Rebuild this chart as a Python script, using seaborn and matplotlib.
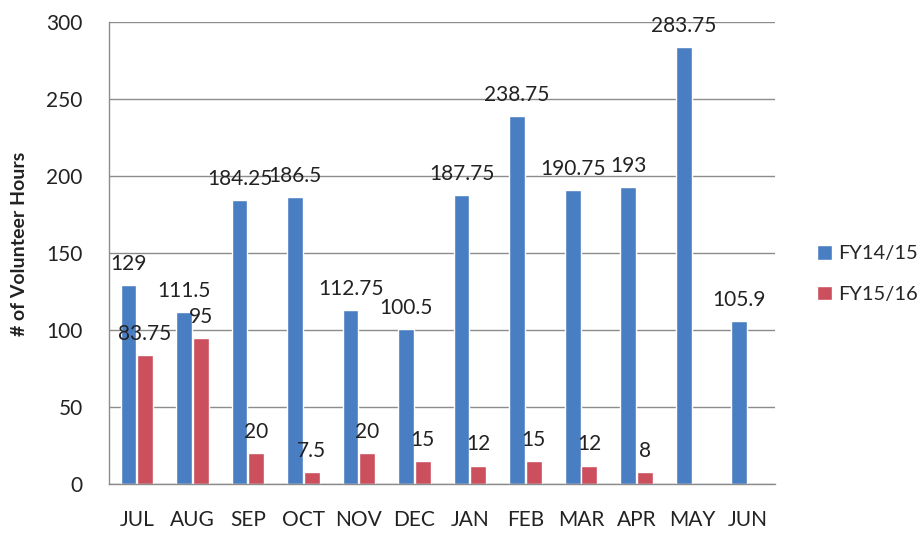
import numpy as np
import pandas as pd
import matplotlib
matplotlib.use("Agg")
import matplotlib.pyplot as plt
import seaborn as sns

months = ["JUL", "AUG", "SEP", "OCT", "NOV", "DEC", "JAN", "FEB", "MAR", "APR", "MAY", "JUN"]
fy1415 = [129, 111.5, 184.25, 186.5, 112.75, 100.5, 187.75, 238.75, 190.75, 193, 283.75, 105.9]
fy1516 = [83.75, 95, 20, 7.5, 20, 15, 12, 15, 12, 8, np.nan, np.nan]
series_names = ["FY14/15", "FY15/16"]
colors = ["#4A7EC2", "#CC4F5E"]
yticks = [0, 50, 100, 150, 200, 250, 300]

df = pd.DataFrame({
    "Month": months * 2,
    "Hours": fy1415 + fy1516,
    "Series": [series_names[0]] * len(months) + [series_names[1]] * len(months),
})

sns.set_style("white")
plt.rcParams["font.family"] = ["Lato", "DejaVu Sans"]

fig = plt.figure(figsize=(9.24, 5.34), dpi=100)
ax = fig.add_axes([0.118, 0.0936, 0.721, 0.865])

sns.barplot(data=df, x="Month", y="Hours", hue="Series", order=months,
            hue_order=series_names, palette=colors, width=0.6, gap=0.05,
            saturation=1, ax=ax, legend=True)

ax.set_ylim(0, 300)
ax.set_xlim(-0.5, len(months) - 0.5)
ax.set_yticks(yticks)
ax.set_yticklabels([str(t) for t in yticks], fontsize=15, color="#222222")
ax.tick_params(axis="x", labelsize=15, colors="#222222", length=0, pad=19)
ax.tick_params(axis="y", length=0, pad=19)
ax.set_xlabel("")
ax.set_ylabel("# of Volunteer Hours", fontsize=14, fontweight="bold", color="#222222")
ax.yaxis.set_label_coords(-0.122, 0.52)

ax.yaxis.grid(True, color="#8c8c8c", linewidth=1.0)
ax.set_axisbelow(True)
for s in ["top", "right"]:
    ax.spines[s].set_visible(False)
for s in ["left", "bottom"]:
    ax.spines[s].set_color("#8c8c8c")
    ax.spines[s].set_linewidth(1.0)

for container, vals in zip(ax.containers, [fy1415, fy1516]):
    for bar, v in zip(container, vals):
        if v is None or (isinstance(v, float) and np.isnan(v)):
            continue
        label = f"{v:g}"
        ax.annotate(label, (bar.get_x() + bar.get_width() / 2, bar.get_height()),
                    xytext=(0, 8), textcoords="offset points", ha="center", va="bottom",
                    fontsize=15, color="#222222")

leg = ax.get_legend()
handles = leg.legend_handles
leg.remove()
fig.legend(handles, series_names, loc="center left", bbox_to_anchor=(0.884, 0.487),
           frameon=False, fontsize=14.5, handlelength=0.75, handleheight=0.75,
           handletextpad=0.3, labelspacing=1.15, borderpad=0, borderaxespad=0)

fig.savefig("out.png", dpi=100, facecolor="white")
